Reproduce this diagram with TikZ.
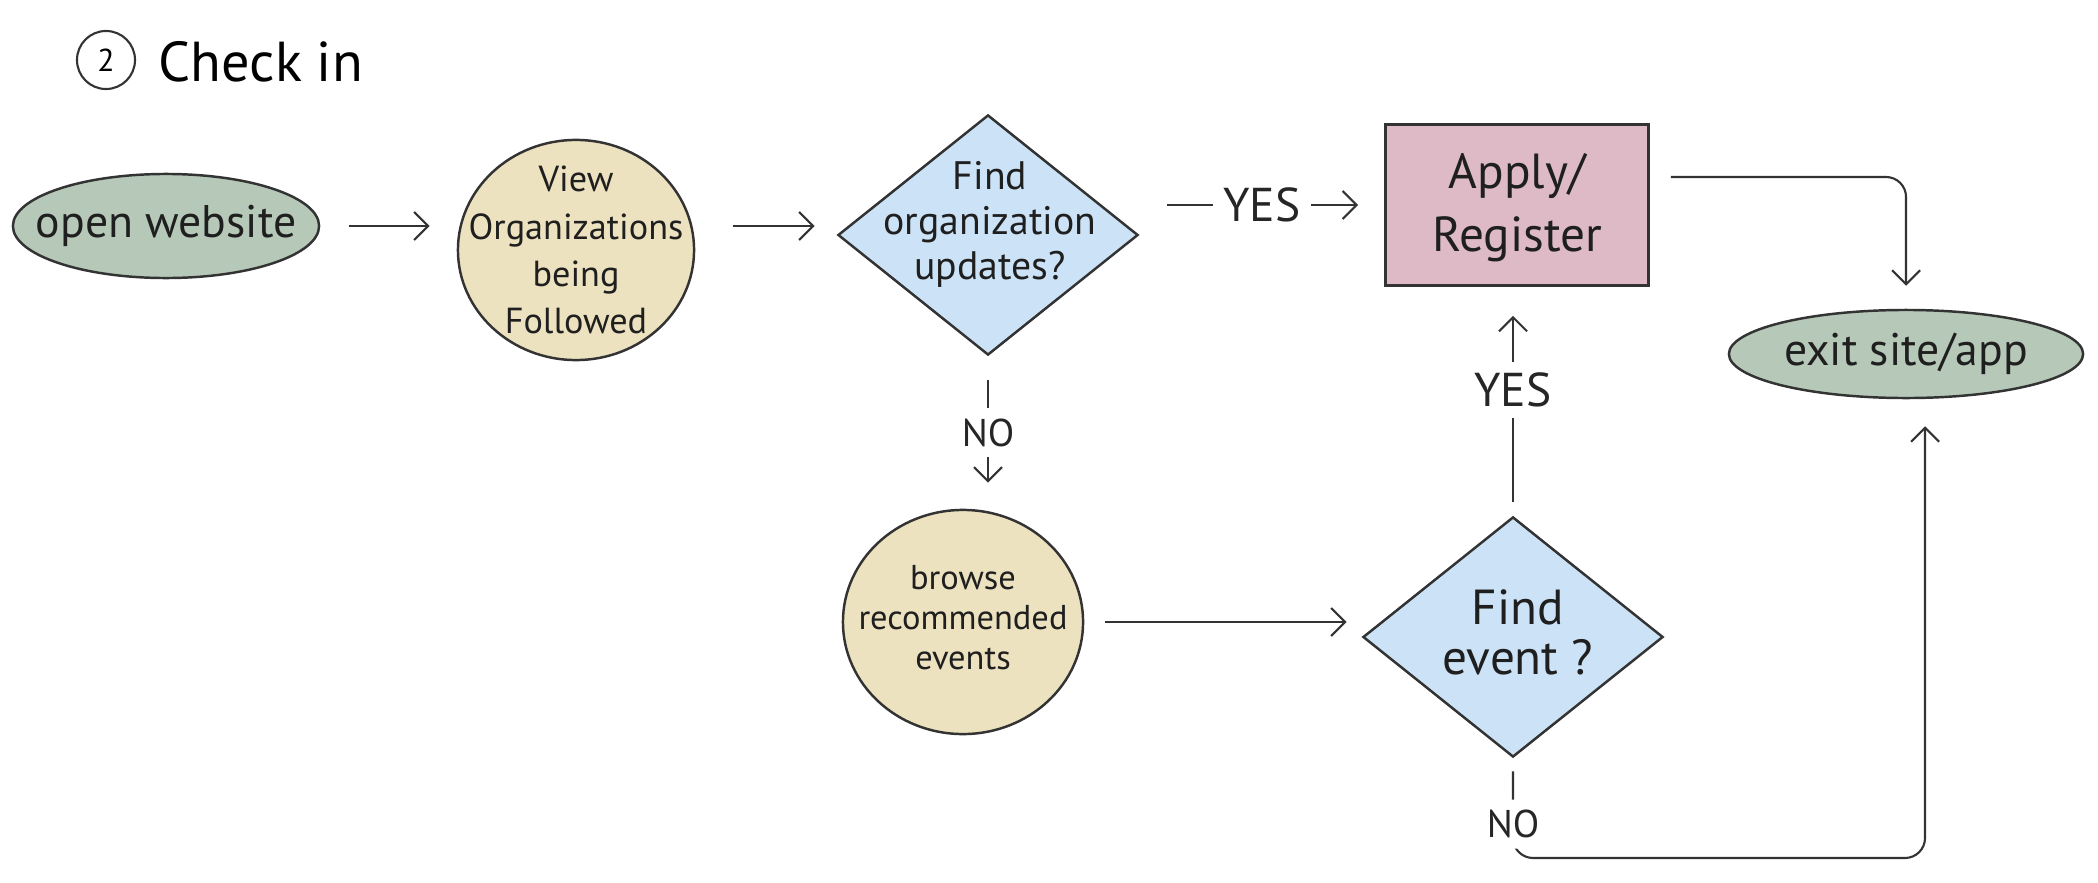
\documentclass[tikz,border=0pt]{standalone}
\usepackage{fontspec}
\setmainfont{PT Sans}
\usetikzlibrary{shapes.geometric,arrows.meta,calc}
\definecolor{sage}{HTML}{B6C9B9}
\definecolor{sand}{HTML}{EDE2BF}
\definecolor{sky}{HTML}{CCE3F7}
\definecolor{rose}{HTML}{DDBAC6}
\definecolor{ink}{HTML}{333333}
\begin{document}
\begin{tikzpicture}[x=0.01cm,y=-0.01cm,
  outline/.style={draw=ink, line width=0.7pt},
  term/.style={outline, ellipse, fill=sage, inner sep=0pt},
  proc/.style={outline, ellipse, fill=sand, inner sep=0pt},
  dia/.style={outline, diamond, fill=sky, inner sep=0pt},
  act/.style={outline, rectangle, fill=rose, inner sep=0pt},
  lbl/.style={align=center, text=black!88, inner sep=0pt},
  arr/.style={draw=ink, line width=0.6pt, -{Straight Barb[length=1.4mm,width=2.8mm]}},
  tag/.style={fill=white, inner sep=3pt, text=black!85, font=\fontsize{13.5}{15}\selectfont},
]
\useasboundingbox (0,0) rectangle (2098,882);

% title
\node[draw=ink, circle, line width=0.6pt, minimum size=0.58cm, inner sep=0pt, font=\fontsize{9}{10}\selectfont] (num) at (106,60) {2};
\node[anchor=west, font=\fontsize{16}{18}\selectfont, inner sep=0pt] (title) at (158,62) {Check in};

% shapes
\node[term, minimum width=3.06cm, minimum height=1.04cm] (op) at (166,226) {};
\node[proc, minimum width=2.36cm, minimum height=2.2cm] (vw) at (576,250) {};
\node[dia, minimum width=3.0cm, minimum height=2.4cm] (d1) at (988,235) {};
\node[act, minimum width=2.63cm, minimum height=1.61cm] (box) at (1517,205) {};
\node[term, minimum width=3.54cm, minimum height=0.88cm] (ex) at (1906,354) {};
\node[proc, minimum width=2.4cm, minimum height=2.24cm] (br) at (963,622) {};
\node[dia, minimum width=3.0cm, minimum height=2.4cm] (d2) at (1513,637) {};
\coordinate (nb) at (1925,858);

% texts
\node[lbl, font=\fontsize{13}{15}\selectfont] (opt) at (166,226) {open website};
\node[lbl, font=\fontsize{10.3}{13.4}\selectfont] (vwt) at (576,250) {View\\Organizations\\being\\Followed};
\node[lbl, font=\fontsize{11.3}{12.8}\selectfont] (d1t) at (990,224) {Find\\organization\\updates?};
\node[lbl, font=\fontsize{14}{18}\selectfont] (boxt) at (1517,208) {Apply/\\Register};
\node[lbl, font=\fontsize{13}{14}\selectfont] (ext) at (1906,354) {exit site/app};
\node[lbl, font=\fontsize{9.8}{11.4}\selectfont] (brt) at (963,618) {browse\\recommended\\events};
\node[lbl, font=\fontsize{14}{14.2}\selectfont] (d2t) at (1518,632) {Find\\event ?};

% connectors
\draw[arr, shorten <=0.29cm, shorten >=0.27cm] (op.east) -- (op.east -| vw.west);
\draw[arr, shorten <=0.38cm, shorten >=0.22cm] (vw.east |- op.east) -- (d1.west |- op.east);
\draw[arr, shorten <=0.28cm, shorten >=0.26cm] (d1.east |- box.west) -- node[tag]{YES} (box.west);
\draw[arr, shorten <=0.24cm, shorten >=0.26cm] (d1.south) -- node[tag, font=\fontsize{11}{13}\selectfont]{NO} (d1.south |- br.north);
\draw[arr, shorten <=0.21cm, shorten >=0.15cm] (br.east) -- (br.east -| d2.west);
\draw[arr, shorten <=0.14cm, shorten >=0.29cm] (d2.north) -- node[tag, pos=0.55]{YES} (d2.north |- box.south);
\draw[arr, rounded corners=0.2cm, shorten <=0.21cm, shorten >=0.23cm] ([yshift=0.28cm]box.east) -| (ex.north);
\draw[arr, rounded corners=0.2cm, shorten <=0.13cm, shorten >=0.27cm] (d2.south) -- node[tag, pos=0.66, font=\fontsize{11}{13}\selectfont]{NO} (d2.south |- nb) -- (nb) -- (nb |- ex.south);
\end{tikzpicture}
\end{document}
